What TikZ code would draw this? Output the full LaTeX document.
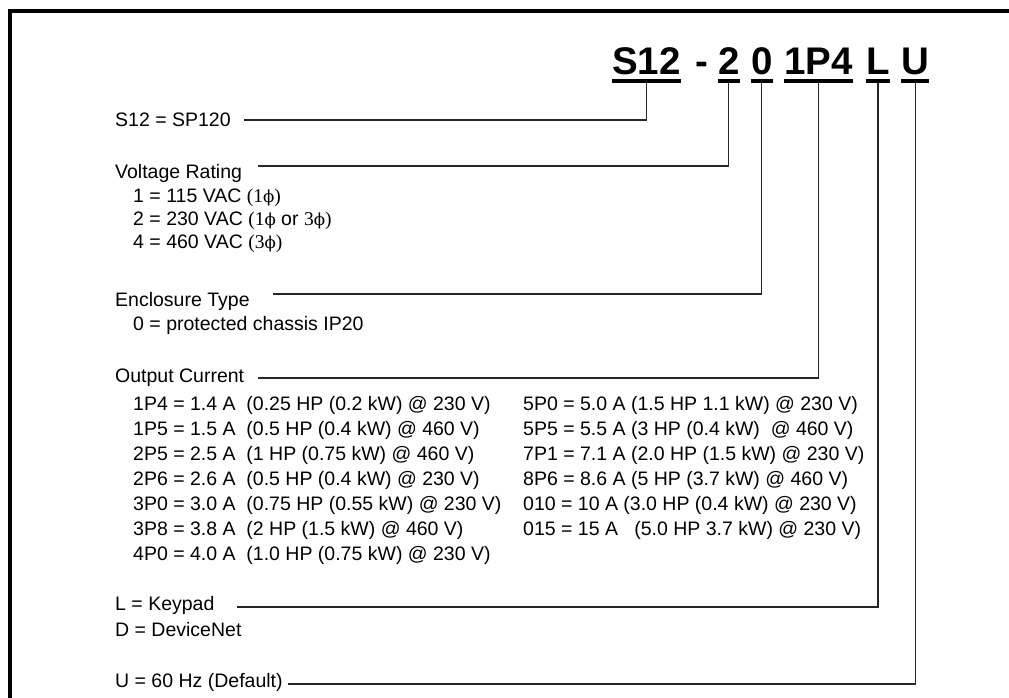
\documentclass[tikz,border=0pt]{standalone}
\usepackage{fontspec}
\setmainfont{Liberation Sans}
\newfontfamily\serf{Liberation Serif}
\newfontfamily\phifont{DejaVu Serif}[Scale=0.85]
\newcommand{\ph}[1]{{\serf #1}{\phifont ϕ}}
\begin{document}
\begin{tikzpicture}[x=1pt,y=-1pt,
  txt/.style={anchor=base west,inner sep=0pt,font=\fontsize{19.5}{23}\selectfont},
  ttl/.style={anchor=base west,inner sep=0pt,font=\fontsize{38.5}{40}\selectfont\bfseries},
  conn/.style={line width=1.1pt,draw=black!85},
  uline/.style={line width=4pt},
  framestyle/.style={line width=3.3pt}]
\useasboundingbox (0,0) rectangle (1009,698);
\fill[white] (0,0) rectangle (1009,698);
\draw[framestyle] (1009,11) -- (10,11) -- (10,698);

% title
\node[ttl] (tS) at (612,75) {S12};
\node[ttl] (tdash) at (695,75) {-};
\node[ttl] (t2) at (718,75) {2};
\node[ttl] (t0) at (751,75) {0};
\node[ttl] (tP) at (784,75) {1P4};
\node[ttl] (tL) at (866,75) {L};
\node[ttl] (tU) at (901,75) {U};
\foreach \n in {tS,t2,t0,tP,tL,tU}
  \draw[uline] ([yshift=-6pt]\n.base west) -- ([yshift=-6pt]\n.base east);

% labels
\node[txt] (lS) at (115,127) {S12 = SP120};
\node[txt] (lV) at (115,178) {Voltage Rating};
\node[txt] (v1) at (133,202) {1 = 115 VAC {\serf(}\ph{1}{\serf)}};
\node[txt] (v2) at (133,225) {2 = 230 VAC {\serf(}\ph{1} or \ph{3}{\serf)}};
\node[txt] (v3) at (133,248) {4 = 460 VAC {\serf(}\ph{3}{\serf)}};
\node[txt] (lE) at (115,306) {Enclosure Type};
\node[txt] (e1) at (133,330) {0 = protected chassis IP20};
\node[txt] (lO) at (115,382) {Output Current};
\node[txt] (o1) at (133,410) {1P4 = 1.4 A\ \ (0.25 HP (0.2 kW) @ 230 V)};
\node[txt] (o2) at (133,435) {1P5 = 1.5 A\ \ (0.5 HP (0.4 kW) @ 460 V)};
\node[txt] (o3) at (133,460) {2P5 = 2.5 A\ \ (1 HP (0.75 kW) @ 460 V)};
\node[txt] (o4) at (133,485) {2P6 = 2.6 A\ \ (0.5 HP (0.4 kW) @ 230 V)};
\node[txt] (o5) at (133,510) {3P0 = 3.0 A\ \ (0.75 HP (0.55 kW) @ 230 V)};
\node[txt] (o6) at (133,535) {3P8 = 3.8 A\ \ (2 HP (1.5 kW) @ 460 V)};
\node[txt] (o7) at (133,560) {4P0 = 4.0 A\ \ (1.0 HP (0.75 kW) @ 230 V)};
\node[txt] (r1) at (523,410) {5P0 = 5.0 A (1.5 HP 1.1 kW) @ 230 V)};
\node[txt] (r2) at (523,435) {5P5 = 5.5 A (3 HP (0.4 kW)\ \ @ 460 V)};
\node[txt] (r3) at (523,460) {7P1 = 7.1 A (2.0 HP (1.5 kW) @ 230 V)};
\node[txt] (r4) at (523,485) {8P6 = 8.6 A (5 HP (3.7 kW) @ 460 V)};
\node[txt] (r5) at (523,510) {010 = 10 A (3.0 HP (0.4 kW) @ 230 V)};
\node[txt] (r6) at (523,535) {015 = 15 A\ \ \ (5.0 HP 3.7 kW) @ 230 V)};
\node[txt] (lL) at (115,610) {L = Keypad};
\node[txt] (lD) at (115,636) {D = DeviceNet};
\node[txt] (lU) at (115,687) {U = 60 Hz (Default)};

% connector ends
\coordinate (cS) at (244,120);
\coordinate (cV) at (258,166);
\coordinate (cE) at (273,294);
\coordinate (cO) at (258,378);
\coordinate (cL) at (237,607);
\coordinate (cU) at (288,684);

\draw[conn] ([yshift=-8pt]tS.base) |- (cS);
\draw[conn] ([yshift=-8pt]t2.base) |- (cV);
\draw[conn] ([yshift=-8pt]t0.base) |- (cE);
\draw[conn] ([yshift=-8pt]tP.base) |- (cO);
\draw[conn] ([yshift=-8pt]tL.base) |- (cL);
\draw[conn] ([yshift=-8pt]tU.base) |- (cU);
\end{tikzpicture}
\end{document}
